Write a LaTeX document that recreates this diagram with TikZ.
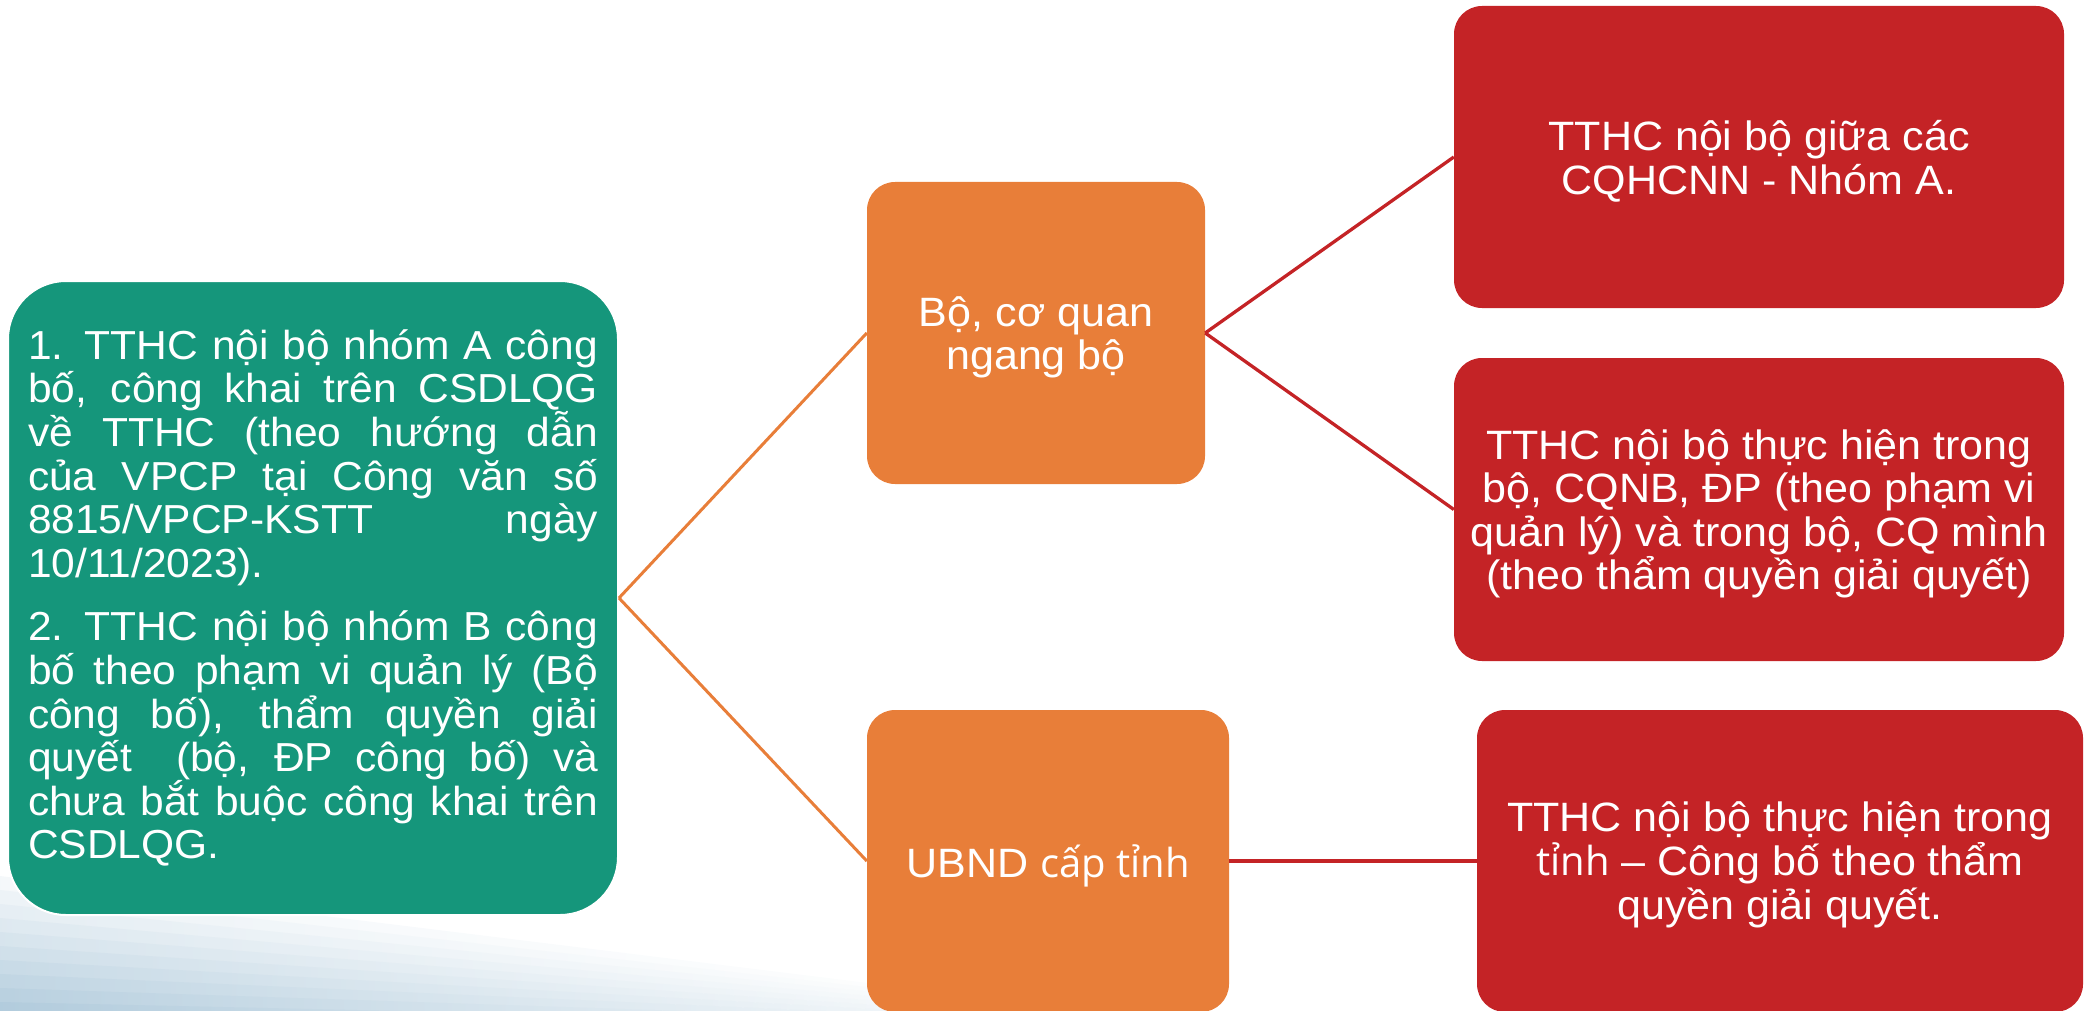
\documentclass[tikz,border=0pt]{standalone}
\usepackage{fontspec}
\setmainfont{Liberation Sans}[FakeStretch=1.05]
\newfontfamily\segoe{Open Sans}
\definecolor{cgreen}{RGB}{21,150,123}
\definecolor{corange}{RGB}{232,126,57}
\definecolor{cred}{RGB}{196,35,38}
\definecolor{cstripe}{RGB}{150,185,208}
\tikzset{
  box/.style={rounded corners=28pt, text=white, inner sep=0pt, align=center,
              font=\fontsize{41}{43.6}\selectfont},
  gbox/.style={box, fill=cgreen, draw=white, line width=2pt, rounded corners=58pt,
               align=justify, text width=570pt, font=\fontsize{40.5}{43.6}\selectfont},
  obox/.style={box, fill=corange, text depth=0pt},
  rbox/.style={box, fill=cred, text depth=0pt},
  oline/.style={draw=corange, line width=3pt},
  rline/.style={draw=cred, line width=3.3pt},
}
\begin{document}
\begin{tikzpicture}[x=1pt,y=-1pt]
\useasboundingbox (0,0) rectangle (2084,1011);
\begin{scope}
  \clip (0,0) rectangle (2084,1011);
  \foreach \i in {0,...,11}{
    \pgfmathsetmacro\ya{876+14*\i}
    \pgfmathsetmacro\yb{891+14*\i}
    \pgfmathsetmacro\pc{10+7*\i}
    \shade[left color=cstripe!\pc!white, right color=white] (0,\ya) -- (1250,1030) -- (0,\yb) -- cycle;
  }
\end{scope}

\node[gbox, minimum width=610pt, minimum height=634pt] (g) at (313,598)
  {1. TTHC nội bộ nhóm A công\linebreak bố, công khai trên CSDLQG\linebreak về TTHC (theo hướng dẫn\linebreak của VPCP tại Công văn số\linebreak 8815/VPCP-KSTT ngày\linebreak 10/11/2023).\par\vspace{20pt}2. TTHC nội bộ nhóm B công\linebreak bố theo phạm vi quản lý (Bộ\linebreak công bố), thẩm quyền giải\linebreak quyết \ (bộ, ĐP công bố) và\linebreak chưa bắt buộc công khai trên\linebreak CSDLQG.\par};

\node[obox, minimum width=338pt, minimum height=302pt] (o1) at (1036,333) {Bộ, cơ quan\\ngang bộ};
\node[obox, minimum width=362pt, minimum height=302pt] (o2) at (1048,861) {UBND {\segoe\fontsize{40}{43.6}\selectfont cấp tỉnh}};

\node[rbox, minimum width=610pt, minimum height=302pt, font=\fontsize{41}{44}\selectfont] (r1) at (1759,157) {TTHC nội bộ giữa các\\CQHCNN - Nhóm A.};
\node[rbox, minimum width=610pt, minimum height=303pt] (r2) at (1759,509.5) {TTHC nội bộ thực hiện trong\\bộ, CQNB, ĐP (theo phạm vi\\quản lý) và trong bộ, CQ mình\\(theo thẩm quyền giải quyết)};
\node[rbox, minimum width=606pt, minimum height=302pt, font=\fontsize{41}{44}\selectfont] (r3) at (1780,861) {TTHC nội bộ thực hiện trong\\{\segoe\fontsize{40}{44}\selectfont tỉnh} – Công bố theo thẩm\\quyền giải quyết.};

\draw[oline] (g.east) -- (o1.west);
\draw[oline] (g.east) -- (o2.west);
\draw[rline] (o1.east) -- (r1.west);
\draw[rline] (o1.east) -- (r2.west);
\draw[rline] (o2.east) -- (r3.west);
\end{tikzpicture}
\end{document}
